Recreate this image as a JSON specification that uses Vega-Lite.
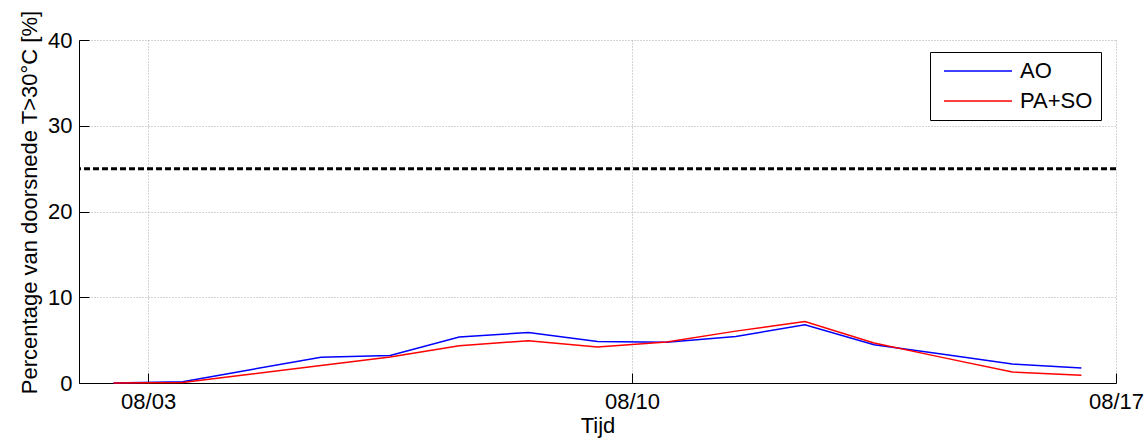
{
  "$schema": "https://vega.github.io/schema/vega-lite/v6.json",
  "width": 1037,
  "height": 343,
  "autosize": {"type": "none"},
  "padding": {"left": 79, "top": 40, "right": 31, "bottom": 61},
  "background": "white",
  "config": {
    "view": {"stroke": null},
    "font": "Liberation Sans",
    "axis": {
      "domainColor": "black",
      "domainWidth": 1,
      "tickColor": "black",
      "tickWidth": 1,
      "tickSize": -10,
      "labelColor": "black",
      "labelFont": "Liberation Sans",
      "labelFontSize": 22,
      "titleFont": "Liberation Sans",
      "titleFontSize": 22,
      "titleFontWeight": "normal",
      "titleColor": "black",
      "grid": true,
      "gridColor": "#a8a8a8",
      "gridDash": [1, 2],
      "gridWidth": 1,
      "labelFlush": false,
      "labelOverlap": false
    },
    "legend": {
      "orient": "none",
      "legendX": 851,
      "legendY": 12,
      "strokeColor": "black",
      "fillColor": "white",
      "padding": 8,
      "symbolType": "M-0.5,0L6.3,0",
      "symbolSize": 400,
      "symbolStrokeWidth": 1.5,
      "labelFont": "Liberation Sans",
      "labelFontSize": 22,
      "labelColor": "black",
      "labelOffset": 60,
      "rowPadding": 8
    }
  },
  "data": {
    "values": [
      {"series": "AO", "time": "2013-08-02T12:00:00", "value": 0},
      {"series": "AO", "time": "2013-08-03T12:00:00", "value": 0.15},
      {"series": "AO", "time": "2013-08-04T12:00:00", "value": 1.58},
      {"series": "AO", "time": "2013-08-05T12:00:00", "value": 3.0},
      {"series": "AO", "time": "2013-08-06T12:00:00", "value": 3.2},
      {"series": "AO", "time": "2013-08-07T12:00:00", "value": 5.36},
      {"series": "AO", "time": "2013-08-08T12:00:00", "value": 5.9},
      {"series": "AO", "time": "2013-08-09T12:00:00", "value": 4.85},
      {"series": "AO", "time": "2013-08-10T12:00:00", "value": 4.75},
      {"series": "AO", "time": "2013-08-11T12:00:00", "value": 5.43},
      {"series": "AO", "time": "2013-08-12T12:00:00", "value": 6.8},
      {"series": "AO", "time": "2013-08-13T12:00:00", "value": 4.46},
      {"series": "AO", "time": "2013-08-14T12:00:00", "value": 3.35},
      {"series": "AO", "time": "2013-08-15T12:00:00", "value": 2.21},
      {"series": "AO", "time": "2013-08-16T12:00:00", "value": 1.75},
      {"series": "PA+SO", "time": "2013-08-02T12:00:00", "value": 0},
      {"series": "PA+SO", "time": "2013-08-03T12:00:00", "value": 0.05},
      {"series": "PA+SO", "time": "2013-08-04T12:00:00", "value": 1.05},
      {"series": "PA+SO", "time": "2013-08-05T12:00:00", "value": 2.04},
      {"series": "PA+SO", "time": "2013-08-06T12:00:00", "value": 3.03},
      {"series": "PA+SO", "time": "2013-08-07T12:00:00", "value": 4.35},
      {"series": "PA+SO", "time": "2013-08-08T12:00:00", "value": 4.93},
      {"series": "PA+SO", "time": "2013-08-09T12:00:00", "value": 4.2},
      {"series": "PA+SO", "time": "2013-08-10T12:00:00", "value": 4.78},
      {"series": "PA+SO", "time": "2013-08-11T12:00:00", "value": 6.05},
      {"series": "PA+SO", "time": "2013-08-12T12:00:00", "value": 7.18},
      {"series": "PA+SO", "time": "2013-08-13T12:00:00", "value": 4.66},
      {"series": "PA+SO", "time": "2013-08-14T12:00:00", "value": 2.96},
      {"series": "PA+SO", "time": "2013-08-15T12:00:00", "value": 1.28},
      {"series": "PA+SO", "time": "2013-08-16T12:00:00", "value": 0.89}
    ]
  },
  "layer": [
    {
      "mark": {"type": "line", "strokeWidth": 1.5},
      "encoding": {
        "x": {
          "field": "time",
          "type": "temporal",
          "scale": {"domain": [{"year": 2013, "month": 8, "date": 2}, {"year": 2013, "month": 8, "date": 17}]},
          "axis": {
            "title": "Tijd",
            "format": "%m/%d",
            "values": [{"year": 2013, "month": 8, "date": 3}, {"year": 2013, "month": 8, "date": 10}, {"year": 2013, "month": 8, "date": 17}],
            "labelPadding": 18,
            "titlePadding": 3
          }
        },
        "y": {
          "field": "value",
          "type": "quantitative",
          "scale": {"domain": [0, 40]},
          "axis": {
            "title": "Percentage van doorsnede T>30°C [%]",
            "values": [0, 10, 20, 30, 40],
            "labelPadding": 17,
            "titlePadding": 6,
            "titleY": 162
          }
        },
        "color": {
          "field": "series",
          "type": "nominal",
          "scale": {"domain": ["AO", "PA+SO"], "range": ["#0000ff", "#ff0000"]},
          "legend": {"title": null}
        }
      }
    },
    {
      "data": {"values": [{"threshold": 25}]},
      "mark": {"type": "rule", "color": "black", "strokeWidth": 3, "strokeDash": [6, 3]},
      "encoding": {
        "y": {"field": "threshold", "type": "quantitative"}
      }
    }
  ]
}
